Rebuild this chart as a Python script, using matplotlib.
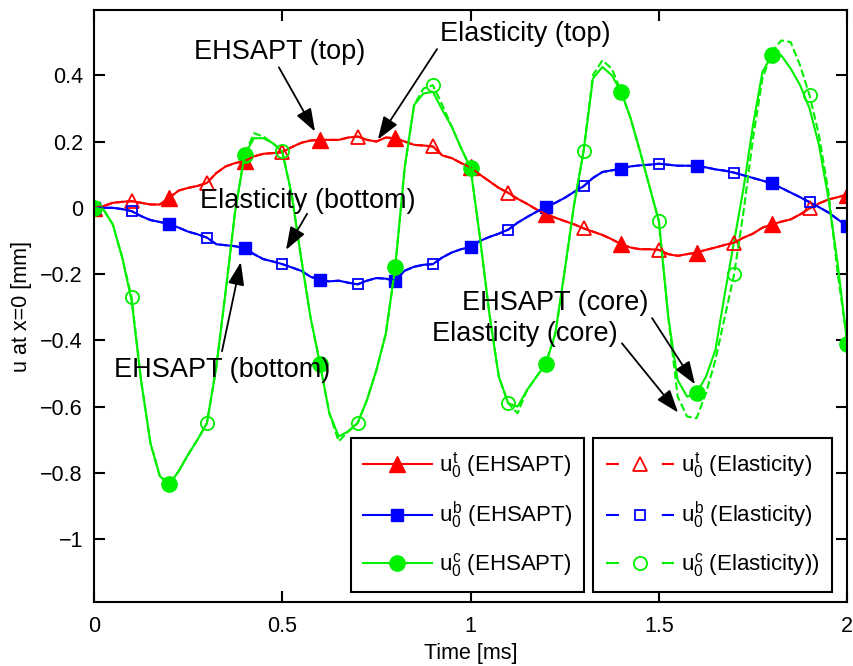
import matplotlib
matplotlib.use("Agg")
import matplotlib.pyplot as plt
from matplotlib.lines import Line2D
from matplotlib.ticker import FuncFormatter
import numpy as np

# time grid, 0.025 ms steps
time_ms = np.arange(81) * 0.025

u_top = [0.0, 0.005, 0.015, 0.018, 0.02, 0.015, 0.01, 0.01, 0.03, 0.052,
         0.06, 0.066, 0.075, 0.105, 0.125, 0.135, 0.141, 0.155, 0.163, 0.165,
         0.168, 0.183, 0.196, 0.203, 0.205, 0.205, 0.205, 0.212, 0.215, 0.205,
         0.2, 0.212, 0.21, 0.2, 0.19, 0.188, 0.185, 0.158, 0.15, 0.135,
         0.122, 0.1, 0.08, 0.06, 0.045, 0.027, 0.012, -0.005, -0.019, -0.03,
         -0.04, -0.05, -0.062, -0.072, -0.082, -0.095, -0.11, -0.12, -0.125, -0.125,
         -0.127, -0.14, -0.145, -0.14, -0.135, -0.127, -0.12, -0.112, -0.105, -0.09,
         -0.078, -0.06, -0.05, -0.042, -0.035, -0.02, -0.002, 0.013, 0.025, 0.032,
         0.04]

u_bot = [0.0, 0.0, 0.0, -0.004, -0.01, -0.025, -0.037, -0.043, -0.048, -0.06,
         -0.072, -0.08, -0.09, -0.11, -0.113, -0.116, -0.122, -0.14, -0.155, -0.162,
         -0.17, -0.18, -0.19, -0.208, -0.218, -0.222, -0.22, -0.226, -0.231, -0.22,
         -0.212, -0.214, -0.22, -0.19, -0.178, -0.172, -0.17, -0.15, -0.135, -0.125,
         -0.118, -0.1, -0.088, -0.078, -0.066, -0.045, -0.028, -0.012, 0.002, 0.015,
         0.03, 0.048, 0.065, 0.09, 0.108, 0.113, 0.118, 0.125, 0.128, 0.13,
         0.133, 0.13, 0.127, 0.127, 0.126, 0.122, 0.116, 0.112, 0.106, 0.098,
         0.09, 0.082, 0.074, 0.06, 0.046, 0.032, 0.017, 0.002, -0.014, -0.035,
         -0.055]

u_core_ehsapt = [0.0, -0.005, -0.05, -0.15, -0.28, -0.52, -0.71, -0.81, -0.835, -0.795,
                 -0.745, -0.70, -0.65, -0.48, -0.25, -0.01, 0.16, 0.21, 0.21, 0.195,
                 0.17, 0.04, -0.15, -0.33, -0.47, -0.62, -0.69, -0.675, -0.65, -0.58,
                 -0.49, -0.38, -0.18, 0.12, 0.31, 0.345, 0.35, 0.295, 0.245, 0.18,
                 0.12, -0.09, -0.32, -0.51, -0.59, -0.60, -0.55, -0.51, -0.47, -0.38,
                 -0.19, 0.01, 0.17, 0.39, 0.425, 0.40, 0.35, 0.27, 0.17, 0.065,
                 -0.04, -0.33, -0.52, -0.57, -0.56, -0.51, -0.43, -0.26, -0.10, 0.06,
                 0.25, 0.41, 0.46, 0.46, 0.42, 0.37, 0.30, 0.19, 0.03, -0.17,
                 -0.41]

u_core_elast = [0.0, -0.005, -0.05, -0.15, -0.27, -0.52, -0.71, -0.81, -0.835, -0.795,
                -0.745, -0.70, -0.65, -0.48, -0.25, -0.01, 0.16, 0.225, 0.215, 0.195,
                0.17, 0.04, -0.15, -0.33, -0.47, -0.62, -0.705, -0.675, -0.65, -0.58,
                -0.49, -0.38, -0.18, 0.12, 0.31, 0.36, 0.37, 0.31, 0.245, 0.18,
                0.12, -0.09, -0.32, -0.51, -0.59, -0.62, -0.55, -0.51, -0.47, -0.38,
                -0.19, 0.01, 0.17, 0.40, 0.445, 0.42, 0.35, 0.27, 0.17, 0.065,
                -0.04, -0.33, -0.57, -0.63, -0.635, -0.56, -0.46, -0.33, -0.20, -0.01,
                0.21, 0.39, 0.47, 0.505, 0.50, 0.43, 0.34, 0.22, 0.05, -0.20,
                -0.40]

# annotation texts: (label, text position, arrow tail, arrow head) in data units
notes = [
    ("EHSAPT (top)", (0.494, 0.470), (0.491, 0.424), (0.587, 0.230)),
    ("Elasticity (top)", (1.145, 0.524), (0.911, 0.479), (0.754, 0.206)),
    ("Elasticity (bottom)", (0.568, 0.021), (0.566, -0.018), (0.510, -0.127)),
    ("EHSAPT (bottom)", (0.340, -0.490), (0.340, -0.433), (0.390, -0.164)),
    ("EHSAPT (core)", (1.224, -0.288), (1.482, -0.333), (1.596, -0.533)),
    ("Elasticity (core)", (1.145, -0.382), (1.402, -0.409), (1.551, -0.618)),
]

plt.rcParams["font.family"] = ["Liberation Sans", "DejaVu Sans"]
plt.rcParams["mathtext.fontset"] = "custom"
plt.rcParams["mathtext.rm"] = "Liberation Sans"
plt.rcParams["mathtext.it"] = "Liberation Sans"

RED, BLUE, GREEN = "#ff0000", "#0000ff", "#00f000"
LW = 1.5

fig = plt.figure(figsize=(8.54, 6.66), dpi=100)
ax = fig.add_axes([0.110, 0.096, 0.882, 0.889])

# EHSAPT: solid, filled markers at even tenths
h1, = ax.plot(time_ms, u_top, "-", color=RED, lw=LW, marker="^", ms=12,
              markevery=(0, 8), mfc=RED, mec=RED)
h2, = ax.plot(time_ms, u_bot, "-", color=BLUE, lw=LW, marker="s", ms=8.5,
              markevery=(0, 8), mfc=BLUE, mec=BLUE)
h3, = ax.plot(time_ms, u_core_ehsapt, "-", color=GREEN, lw=LW, marker="o", ms=11,
              markevery=(0, 8), mfc=GREEN, mec=GREEN)
# Elasticity: dashed, open markers at odd tenths
ax.plot(time_ms, u_top, "--", color=RED, lw=LW, marker="^", ms=10,
        markevery=(4, 8), mfc="none", mec=RED, mew=1.3)
ax.plot(time_ms, u_bot, "--", color=BLUE, lw=LW, marker="s", ms=7.5,
        markevery=(4, 8), mfc="none", mec=BLUE, mew=1.3)
ax.plot(time_ms, u_core_elast, "--", color=GREEN, lw=LW, marker="o", ms=9.5,
        markevery=(4, 8), mfc="none", mec=GREEN, mew=1.3)

for label, txt, tail, head in notes:
    ax.text(txt[0], txt[1], label, fontsize=19.5, ha="center", va="center")
    ax.annotate("", xy=head, xytext=tail,
                arrowprops=dict(arrowstyle="-|>,head_length=0.7,head_width=0.25",
                                color="k", lw=1.3, mutation_scale=20,
                                shrinkA=0, shrinkB=0))

ax.set_xlim(0, 2)
ax.set_ylim(-1.19, 0.597)
ax.set_xticks([0, 0.5, 1, 1.5, 2])
ax.set_yticks([-1, -0.8, -0.6, -0.4, -0.2, 0, 0.2, 0.4])
fmt = FuncFormatter(lambda v, pos: ("%g" % v).replace("-", "\u2212"))
ax.xaxis.set_major_formatter(fmt)
ax.yaxis.set_major_formatter(fmt)
ax.tick_params(direction="in", top=True, right=True, length=8, width=1.5,
               labelsize=15.5)
ax.tick_params(axis="x", pad=10)
ax.tick_params(axis="y", pad=8)
for sp in ax.spines.values():
    sp.set_linewidth(1.5)
ax.set_xlabel("Time [ms]", fontsize=15.5, labelpad=4)
ax.set_ylabel("u at x=0 [mm]", fontsize=15.5, labelpad=6)

leg_kw = dict(fontsize=16, fancybox=False, framealpha=1, edgecolor="k",
              handlelength=3.1, handletextpad=0.3, labelspacing=0.9,
              borderpad=0.55, borderaxespad=0, numpoints=1, loc="upper left")
leg1 = ax.legend([h1, h2, h3],
                 [r"$u_0^t$ (EHSAPT)", r"$u_0^b$ (EHSAPT)", r"$u_0^c$ (EHSAPT)"],
                 bbox_to_anchor=(0.341, 0.277), **leg_kw)
leg1.get_frame().set_linewidth(1.5)
ax.add_artist(leg1)

dash = (0, (6.2, 20.6))
p1 = Line2D([], [], color=RED, lw=LW, ls=dash, marker="^", ms=10, mfc="none", mec=RED, mew=1.3)
p2 = Line2D([], [], color=BLUE, lw=LW, ls=dash, marker="s", ms=7.5, mfc="none", mec=BLUE, mew=1.3)
p3 = Line2D([], [], color=GREEN, lw=LW, ls=dash, marker="o", ms=9.5, mfc="none", mec=GREEN, mew=1.3)
leg2 = ax.legend([p1, p2, p3],
                 [r"$u_0^t$ (Elasticity)", r"$u_0^b$ (Elasticity)", r"$u_0^c$ (Elasticity))"],
                 bbox_to_anchor=(0.663, 0.277), **leg_kw)
leg2.get_frame().set_linewidth(1.5)

fig.savefig("out.png", dpi=100)
